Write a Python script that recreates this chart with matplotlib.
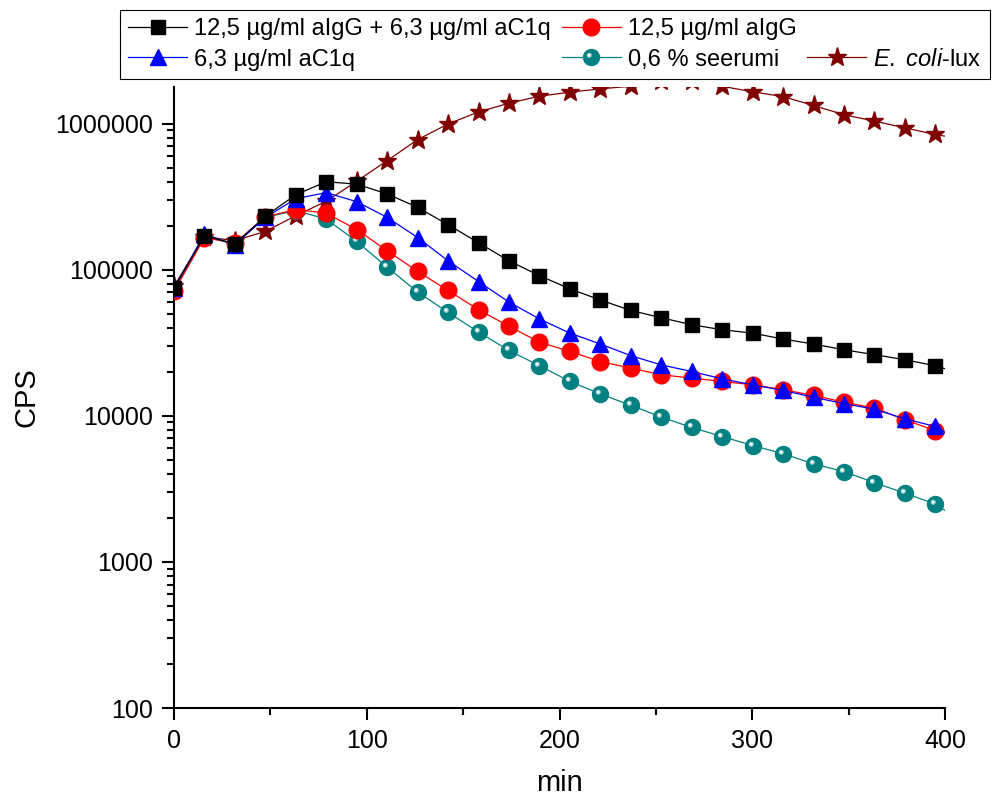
import matplotlib
matplotlib.use("Agg")
import matplotlib.pyplot as plt
from matplotlib.lines import Line2D
from matplotlib.path import Path
from matplotlib.ticker import LogLocator, MultipleLocator, NullFormatter

plt.rcParams['font.family'] = ['Liberation Sans', 'DejaVu Sans']
plt.rcParams['mathtext.fontset'] = 'custom'
plt.rcParams['mathtext.it'] = 'Liberation Sans:italic'
plt.rcParams['mathtext.rm'] = 'Liberation Sans'

# time points (min) where markers sit, last entry is line end only
minutes = [0, 15.8, 31.6, 47.4, 63.2, 79.0, 94.8, 110.6, 126.4, 142.2, 158.0, 173.8, 189.6,
           205.4, 221.2, 237.0, 252.8, 268.6, 284.4, 300.2, 316.0, 331.8, 347.6, 363.4,
           379.2, 395.0, 400.0]

igg_c1q = [75000, 171000, 150000, 232000, 326000, 400000, 385000, 330000, 267000, 203000,
           153000, 115000, 91000, 74000, 62000, 52600, 46900, 42000, 38800, 36800, 33500,
           31000, 28300, 26200, 24200, 22000, 21000]
c1q = [75000, 175000, 148000, 228000, 306000, 337000, 292000, 228000, 166000, 115000,
       83000, 60000, 46000, 36800, 31000, 25800, 22300, 20100, 17900, 16300, 14900,
       13400, 12100, 11100, 9530, 8450, 7700]
igg = [71000, 166000, 152000, 230000, 258000, 244000, 188000, 135000, 97300, 72100,
       53200, 41000, 31900, 27600, 23500, 21200, 19100, 18100, 17200, 16300, 15100,
       13800, 12400, 11300, 9400, 7900, 7600]
serum = [73000, 168000, 150000, 228000, 254000, 222000, 156000, 104000, 70300, 51000,
         37400, 28000, 22000, 17200, 14100, 11800, 9800, 8320, 7210, 6260, 5500,
         4690, 4150, 3490, 2950, 2490, 2250]
ecoli = [77000, 168000, 158000, 183000, 234000, 294000, 403000, 558000, 777000, 995000,
         1200000, 1380000, 1540000, 1640000, 1730000, 1800000, 1950000, 1950000, 1800000,
         1650000, 1530000, 1330000, 1150000, 1040000, 935000, 842000, 820000]

labels = ['12,5 µg/ml aIgG + 6,3 µg/ml aC1q', '6,3 µg/ml aC1q', '12,5 µg/ml aIgG',
          '0,6 % seerumi', r'$\mathit{E.}$ $\mathit{coli}$-lux']

fig = plt.figure(figsize=(9.92, 8), dpi=100)
ax = fig.add_axes([174 / 992, 92 / 800, 771 / 992, 621 / 800])

marks = slice(0, 26)
lw = 0.9

h_ecoli, = ax.plot(minutes, ecoli, color='#800000', lw=lw, marker='*', ms=14,
                   markevery=marks, zorder=2)
h_serum, = ax.plot(minutes, serum, color='#008080', lw=lw, marker='o', ms=11.5,
                   markevery=marks, zorder=3)
# white highlight on the teal balls
hl_path = Path.circle(center=(-0.28, 0.28), radius=0.32)
h_hl, = ax.plot(minutes, serum, ls='none', marker=hl_path, ms=11.5 * 0.6,
                markerfacecolor='#9fd0d0', markeredgecolor='none', markevery=marks, zorder=3.1)
hl2_path = Path.circle(center=(-0.3, 0.3), radius=0.17)
h_hl2, = ax.plot(minutes, serum, ls='none', marker=hl2_path, ms=11.5 * 0.47,
                 markerfacecolor='white', markeredgecolor='none', markevery=marks, zorder=3.2)
h_igg, = ax.plot(minutes, igg, color='#ff0000', lw=lw, marker='o', ms=12,
                 markevery=marks, zorder=4)
h_c1q, = ax.plot(minutes, c1q, color='#0000ff', lw=lw, marker='^', ms=12,
                 markevery=marks, zorder=5)
h_both, = ax.plot(minutes, igg_c1q, color='black', lw=lw, marker='s', ms=10.5,
                  markevery=marks, zorder=6)

ax.set_yscale('log')
ax.set_xlim(0, 400)
ax.set_ylim(100, 1.78e6)
ax.set_xticks([0, 100, 200, 300, 400])
ax.xaxis.set_minor_locator(MultipleLocator(50))
ax.set_yticks([100, 1000, 10000, 100000, 1000000])
ax.set_yticklabels(['100', '1000', '10000', '100000', '1000000'])
ax.yaxis.set_minor_locator(LogLocator(base=10, subs=range(2, 10)))
ax.yaxis.set_minor_formatter(NullFormatter())

for s in ['top', 'right']:
    ax.spines[s].set_visible(False)
for s in ['left', 'bottom']:
    ax.spines[s].set_linewidth(1.5)
ax.tick_params(which='major', direction='out', length=8.4, width=1.5, labelsize=18, pad=7)
ax.tick_params(which='minor', direction='out', length=5, width=1.5)

ax.set_xlabel('min', fontsize=21, labelpad=11)
ax.set_ylabel('CPS', fontsize=21, labelpad=10)

blank = Line2D([], [], color='none')
handles = [h_both, h_c1q, h_igg, (h_serum, h_hl, h_hl2), blank, h_ecoli]
leg_labels = [labels[0], labels[1], labels[2], labels[3], '', labels[4]]
leg = fig.legend(handles, leg_labels, ncol=3, loc='upper left',
                 bbox_to_anchor=(120 / 992, 1 - 10 / 800), fontsize=17,
                 numpoints=1, handlelength=2.5, handletextpad=0.3, columnspacing=0.45,
                 labelspacing=0.35, borderpad=0.35, borderaxespad=0, fancybox=False,
                 edgecolor='black', framealpha=1)
leg.get_frame().set_linewidth(0.8)

fig.savefig('out.png', dpi=100)
